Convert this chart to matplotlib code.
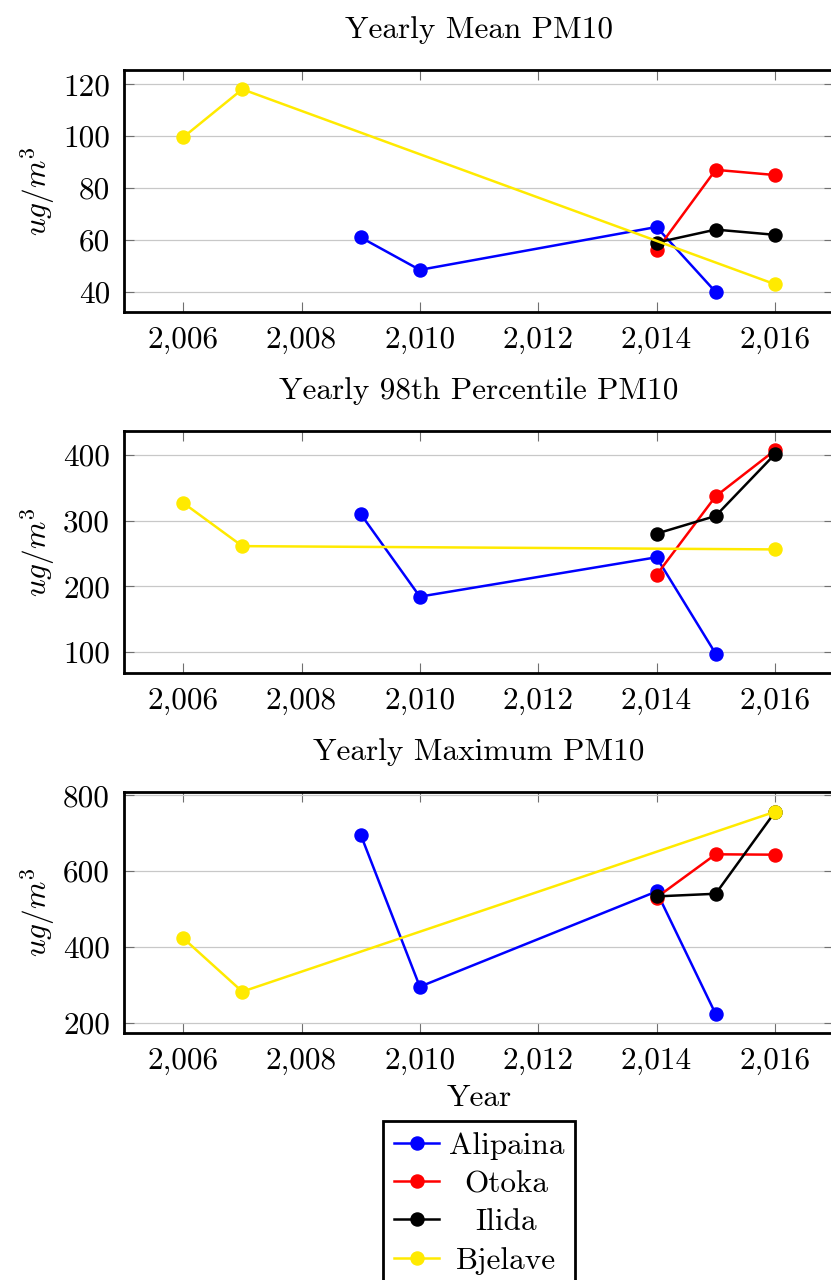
import numpy as np
import matplotlib
matplotlib.use("Agg")
import matplotlib.pyplot as plt
from matplotlib.ticker import FuncFormatter, MultipleLocator
from matplotlib.transforms import Bbox

plt.rcParams['font.family'] = 'cmr10'
plt.rcParams['mathtext.fontset'] = 'cm'
plt.rcParams['axes.formatter.use_mathtext'] = True

# DATA
stations = ["Alipaina", "Otoka", "Ilida", "Bjelave"]
colors = ["#0000ff", "#ff0000", "#000000", "#ffea00"]

years_alipaina = [2009, 2010, 2014, 2015]
years_otoka = [2014, 2015, 2016]
years_ilida = [2014, 2015, 2016]
years_bjelave = [2006, 2007, 2016]

mean_alipaina = [61, 48.5, 65, 40]
mean_otoka = [56, 87, 85]
mean_ilida = [59, 64, 62]
mean_bjelave = [99.5, 118, 43]

p98_alipaina = [310, 184, 244, 97]
p98_otoka = [217, 337, 407]
p98_ilida = [280, 307, 401]
p98_bjelave = [327, 261, 256]

max_alipaina = [696, 295, 546, 223]
max_otoka = [530, 644, 643]
max_ilida = [533, 540, 755]
max_bjelave = [423, 282, 756]

titles = ["Yearly Mean PM10", "Yearly 98th Percentile PM10", "Yearly Maximum PM10"]
years = [years_alipaina, years_otoka, years_ilida, years_bjelave]
panels = [
    [mean_alipaina, mean_otoka, mean_ilida, mean_bjelave],
    [p98_alipaina, p98_otoka, p98_ilida, p98_bjelave],
    [max_alipaina, max_otoka, max_ilida, max_bjelave],
]
ylims = [(32.3, 125.4), (68, 437), (173, 809)]
ysteps = [20, 100, 200]

W, H = 831, 1280
FS = 22.5
fig = plt.figure(figsize=(W / 100, H / 100), dpi=100)

# axes frames in pixels: (top, bottom)
frames = [(70, 312), (430.7, 672.7), (791.7, 1033)]
left_px, right_px = 124, 834

comma = FuncFormatter(lambda v, p: "{:,.0f}".format(v))

axes = []
for i in range(3):
    top, bot = frames[i]
    ax = fig.add_axes([left_px / W, 1 - bot / H, (right_px - left_px) / W, (bot - top) / H])
    for j in range(4):
        ax.plot(years[j], panels[i][j], "-o", color=colors[j], lw=1.8, ms=9.4,
                label=stations[j], zorder=3 + j)
    ax.set_xlim(2005, 2017)
    ax.set_ylim(*ylims[i])
    ax.xaxis.set_major_locator(MultipleLocator(2))
    ax.yaxis.set_major_locator(MultipleLocator(ysteps[i]))
    ax.xaxis.set_major_formatter(comma)
    ax.yaxis.set_major_formatter(comma)
    ax.grid(axis="y", color="#c8c8c8", lw=0.9, zorder=0)
    ax.set_axisbelow(True)
    ax.tick_params(direction="in", length=7, width=0.8, color="#707070",
                   labelsize=FS, pad=10, top=True, right=True)
    for s in ax.spines.values():
        s.set_linewidth(2)
    ax.set_title(titles[i], fontsize=FS, pad=23)
    ax.set_ylabel(r"$ug/m^3$", fontsize=FS, labelpad=4)
    axes.append(ax)

axes[2].set_xlabel("Year", fontsize=FS, labelpad=7)

handles, labels = axes[2].get_legend_handles_labels()
leg = fig.legend(handles, labels, loc="upper center", bbox_to_anchor=(479 / W, 1 - 1121 / H),
                 fontsize=FS, frameon=True, fancybox=False, edgecolor="black", framealpha=1,
                 borderaxespad=0, borderpad=0.35, handlelength=1.45, handletextpad=0.3,
                 labelspacing=0.33)
leg.get_frame().set_linewidth(2)

# center the legend texts in the space next to the handles
areas = [row.get_children()[1] for col in leg._legend_handle_box.get_children()
         for row in col.get_children()]
origs = [a.get_bbox for a in areas]
for a in areas:
    a._text.set_ha("center")


def centered_bbox(orig):
    def get_bbox(renderer):
        bb = orig(renderer)
        wmax = max(f(renderer).width for f in origs)
        return Bbox.from_bounds(-wmax / 2, bb.y0, wmax, bb.height)
    return get_bbox


for a, o in zip(areas, origs):
    a.get_bbox = centered_bbox(o)

fig.savefig("out.png", dpi=100)
